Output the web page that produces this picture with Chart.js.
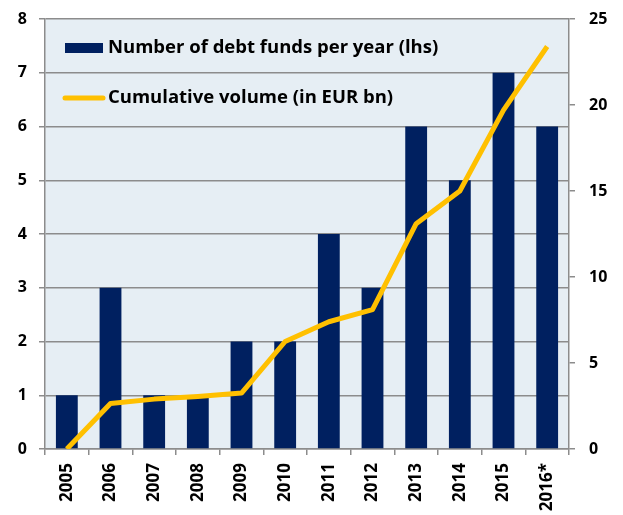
<!DOCTYPE html>
<html>
<head>
<meta charset="utf-8">
<script src="https://cdn.jsdelivr.net/npm/chart.js@4"></script>
<style>
  html,body{margin:0;padding:0;background:#fff;}
  #wrap{width:623px;height:515px;}
</style>
</head>
<body>
<div id="wrap"><canvas id="c" width="623" height="515"></canvas></div>
<script>
const years = ['2005','2006','2007','2008','2009','2010','2011','2012','2013','2014','2015','2016*'];
const fundCounts = [1,3,1,1,2,2,4,3,6,5,7,6];
const cumVolume = [0,2.65,2.9,3.05,3.25,6.25,7.4,8.1,13.1,15.0,19.7,23.4];
const leftTicks = [0,1,2,3,4,5,6,7,8];
const rightTicks = [0,5,10,15,20,25];

const NAVY = '#002060', GOLD = '#FFC000', GRID = '#8c8c8c';
const FONT = '"Open Sans", "DejaVu Sans", sans-serif';

// plot area background
const plotBg = {
  id: 'plotBg',
  beforeDraw(chart) {
    const {ctx, chartArea:{left,top,width,height}} = chart;
    ctx.save();
    ctx.fillStyle = '#E6EEF4';
    ctx.fillRect(left, top, width, height);
    ctx.restore();
  }
};

// legend drawn inside the plot area
const innerLegend = {
  id: 'innerLegend',
  afterDraw(chart) {
    const {ctx} = chart;
    const ds = chart.data.datasets;
    ctx.save();
    ctx.font = 'bold 18.5px ' + FONT;
    ctx.textBaseline = 'middle';
    ctx.fillStyle = NAVY;
    ctx.fillRect(65, 43, 38, 10);
    ctx.fillStyle = '#000';
    ctx.fillText(ds[0].label, 108, 48);
    ctx.strokeStyle = GOLD; ctx.lineWidth = 5; ctx.lineCap = 'round';
    ctx.beginPath(); ctx.moveTo(65, 98); ctx.lineTo(103, 98); ctx.stroke();
    ctx.fillText(ds[1].label, 108, 98);
    ctx.restore();
  }
};

new Chart(document.getElementById('c'), {
  data: {
    labels: years,
    datasets: [
      { type:'bar', label:'Number of debt funds per year (lhs)', data: fundCounts,
        backgroundColor: NAVY, borderWidth: 0, yAxisID:'y', order: 1,
        barPercentage: 0.5, categoryPercentage: 1 },
      { type:'line', label:'Cumulative volume (in EUR bn)', data: cumVolume,
        borderColor: GOLD, borderWidth: 5, pointRadius: 0, tension: 0,
        borderJoinStyle:'round', yAxisID:'y1', order: 0 }
    ]
  },
  options: {
    responsive: false, animation: false,
    layout: { padding: { top: 19, left: 0, right: 0, bottom: 0 } },
    plugins: { legend:{display:false}, tooltip:{enabled:false} },
    scales: {
      x: {
        offset: true,
        grid: { display:true, drawOnChartArea:false, drawTicks:true, tickLength:6, color:GRID, lineWidth:1.5, offset:true },
        border: { display:true, color:GRID, width:1.5 },
        ticks: { color:'#000', font:{ family:FONT, size:17, weight:'bold' }, minRotation:90, maxRotation:90, padding:8 },
        afterFit(s) { s.height = 66; s.paddingLeft = 0; s.paddingRight = 0; }
      },
      y: {
        position:'left', min:0, max:8,
        afterBuildTicks(s) { s.ticks = leftTicks.map(v => ({value:v})); },
        grid: { color:GRID, lineWidth:1.5, tickLength:6 },
        border: { display:true, color:GRID, width:1.5 },
        ticks: { color:'#000', font:{ family:FONT, size:16, weight:'bold' }, padding:12 },
        afterFit(s) { s.width = 45; s.paddingTop = 0; s.paddingBottom = 0; }
      },
      y1: {
        position:'right', min:0, max:25,
        afterBuildTicks(s) { s.ticks = rightTicks.map(v => ({value:v})); },
        grid: { drawOnChartArea:false, color:GRID, lineWidth:1.5, tickLength:6 },
        border: { display:true, color:GRID, width:1.5 },
        ticks: { color:'#000', font:{ family:FONT, size:16, weight:'bold' }, padding:14 },
        afterFit(s) { s.width = 54; s.paddingTop = 0; s.paddingBottom = 0; }
      }
    }
  },
  plugins: [plotBg, innerLegend]
});
</script>
</body>
</html>
